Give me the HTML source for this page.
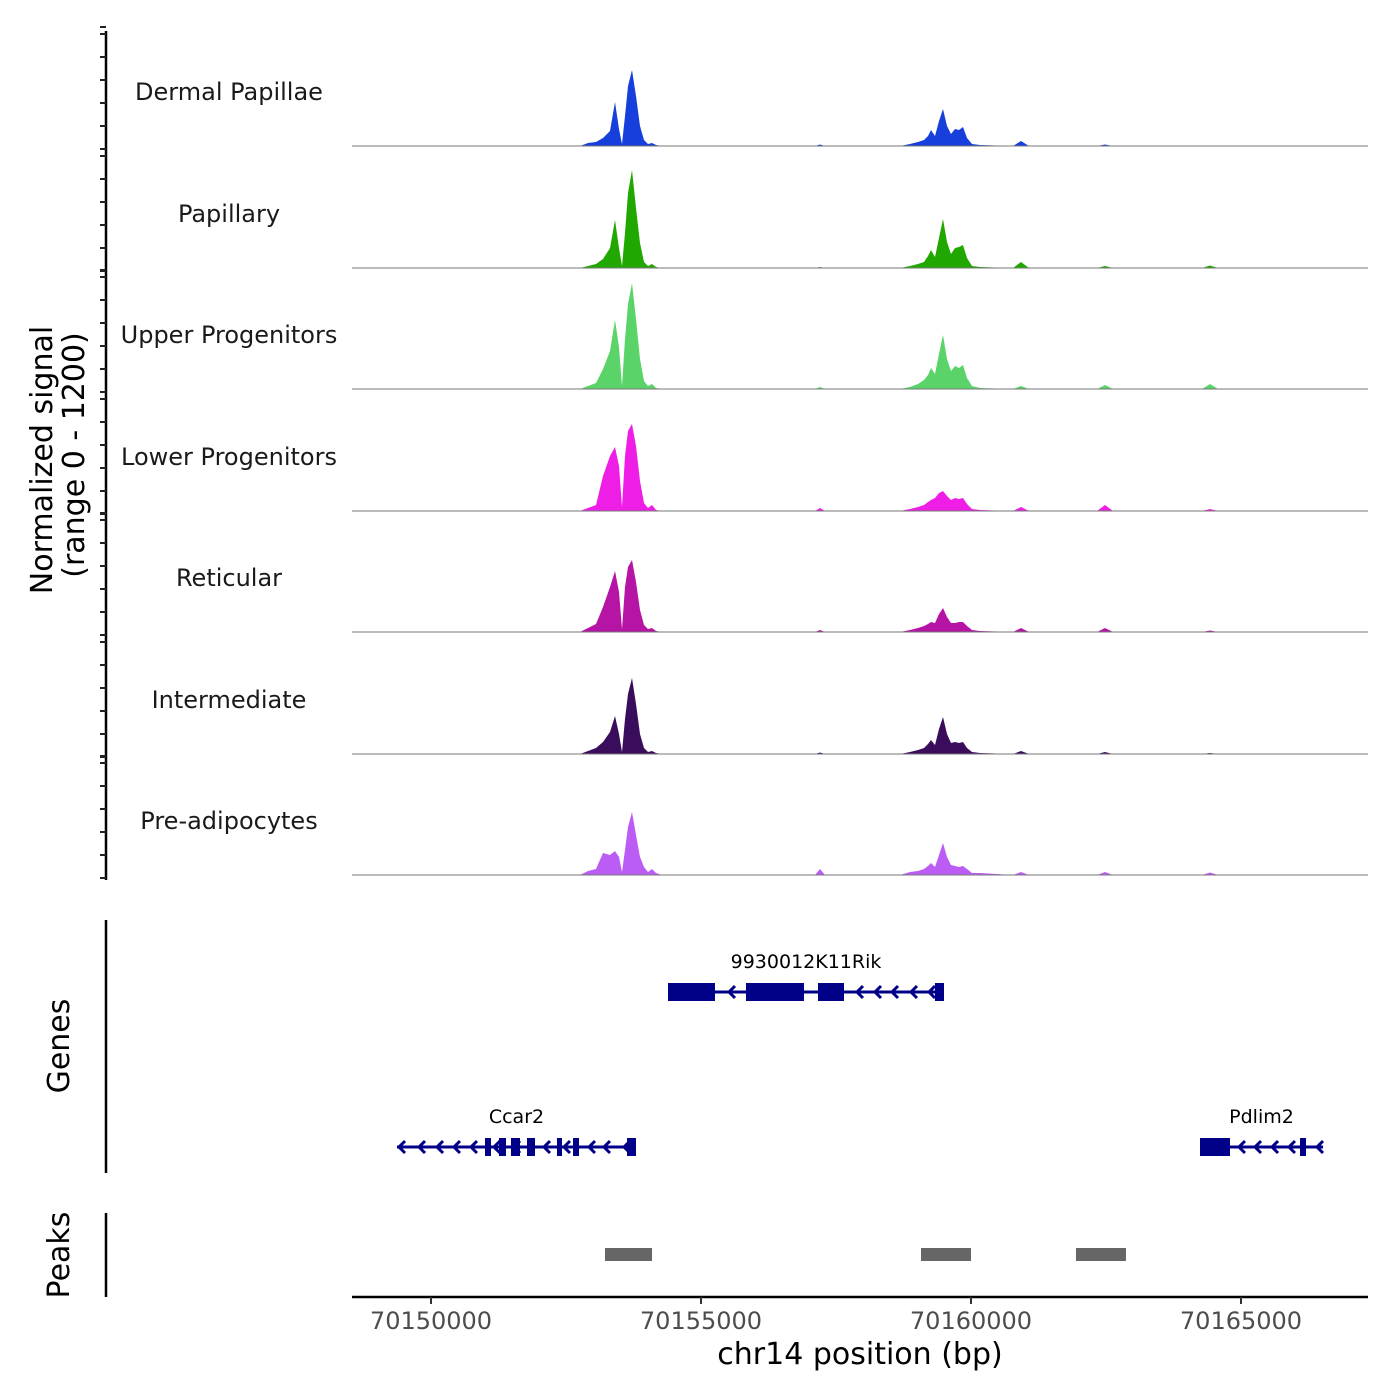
<!DOCTYPE html>
<html><head><meta charset="utf-8"><style>
html,body{margin:0;padding:0;background:#fff}
svg{display:block;font-family:"DejaVu Sans","Liberation Sans",sans-serif}
</style></head><body>
<svg id="chart" width="1400" height="1400" viewBox="0 0 1400 1400">
<g id="tracks"></g>
<g id="yaxis"></g>
<text transform="translate(52,460) rotate(-90)" text-anchor="middle" font-size="30" fill="#000">Normalized signal</text>
<text transform="translate(84,455) rotate(-90)" text-anchor="middle" font-size="30" fill="#000">(range 0 - 1200)</text>
<line x1="106" y1="920" x2="106" y2="1173" stroke="#000" stroke-width="2.5"/>
<text transform="translate(69,1046) rotate(-90)" text-anchor="middle" font-size="30">Genes</text>
<g id="genes"></g>
<line x1="106" y1="1213" x2="106" y2="1297" stroke="#000" stroke-width="2.5"/>
<text transform="translate(69,1255) rotate(-90)" text-anchor="middle" font-size="30">Peaks</text>
<g id="peaks"></g>
<g id="xaxis"></g>
<text x="860" y="1364" text-anchor="middle" font-size="30">chr14 position (bp)</text>
</svg>
<script>
const positions = [70148537,70152759,70152907,70153056,70153185,70153315,70153407,70153481,70153537,70153593,70153648,70153722,70153796,70153870,70153944,70154019,70154093,70154167,70154278,70157111,70157204,70157296,70158685,70158870,70159019,70159130,70159204,70159259,70159333,70159407,70159481,70159556,70159630,70159704,70159778,70159852,70159926,70160019,70160167,70160778,70160926,70161074,70162333,70162481,70162630,70164278,70164426,70164574,70167352];
const trackNames = ["Dermal Papillae","Papillary","Upper Progenitors","Lower Progenitors","Reticular","Intermediate","Pre-adipocytes"];
const trackColors = ["#173fdb","#20a800","#5ad468","#ee1ee6","#b514a5","#3a0c5c","#bb5cf4"];
const dermalValues =  [0,0,30,40,80,150,440,170,20,300,600,760,500,200,60,20,30,10,0,0,15,0,0,20,40,60,100,160,100,250,370,200,120,170,160,190,80,20,10,0,50,0,0,15,0,0,5,0,0];
const papillaryValues=[0,0,20,40,90,200,480,200,20,350,750,980,600,250,60,20,40,10,0,0,10,0,0,20,40,60,120,180,110,300,490,260,140,200,210,230,100,20,10,0,60,0,0,20,0,0,25,0,0];
const upperValues =   [0,0,30,60,200,380,690,420,30,500,850,1060,700,300,80,30,50,10,0,0,20,0,0,20,50,90,140,210,150,350,540,300,180,230,210,240,110,30,10,0,30,0,0,40,0,0,50,0,0];
const lowerValues =   [0,0,30,60,350,550,640,450,40,550,800,870,650,300,80,30,60,10,0,0,30,0,0,20,40,60,90,110,130,180,200,150,110,130,120,130,70,20,10,0,40,0,0,60,0,0,20,0,0];
const reticularValues=[0,0,40,80,250,450,610,400,30,450,650,720,500,220,70,30,40,10,0,0,20,0,0,20,40,60,80,100,90,180,240,150,90,90,100,100,60,20,10,0,40,0,0,40,0,0,15,0,0];
const intermediateValues=[0,0,30,60,120,220,380,200,20,350,600,760,500,200,60,20,30,10,0,0,15,0,0,20,40,60,100,140,90,250,370,200,110,120,110,120,60,20,10,0,30,0,0,20,0,0,10,0,0];
const preadipValues = [0,0,40,60,220,200,240,180,30,250,480,630,400,180,80,30,60,20,0,0,60,0,0,30,40,60,90,120,80,200,320,180,100,90,80,90,60,20,20,0,30,0,0,30,0,0,25,0,0];
const trackValues = [dermalValues,papillaryValues,upperValues,lowerValues,reticularValues,intermediateValues,preadipValues];
const xTicks = [70150000,70155000,70160000,70165000];
const peakStarts = [70153222,70159074,70161944];
const peakEnds =   [70154093,70160000,70162870];
const geneNames = ["9930012K11Rik","Ccar2","Pdlim2"];
const geneStarts = [70154389,70149370,70164241];
const geneEnds =   [70159500,70153796,70166519];
const geneRows = [0,1,1];
const exonStarts = [[70154389,70155833,70157167,70159333],[70151000,70151259,70151481,70151778,70152333,70152630,70153630],[70164241,70166093]];
const exonEnds =   [[70155259,70156907,70157648,70159500],[70151111,70151389,70151648,70151926,70152426,70152741,70153796],[70164796,70166204]];
const arrowPos = [[70155537,70157907,70158241,70158556,70158907,70159241],[70149426,70149796,70150130,70150444,70150759,70151185,70151556,70152111,70152481,70152944,70153222,70153593],[70164981,70165278,70165593,70165907,70166426]];

const NS="http://www.w3.org/2000/svg";
const X0=352,X1=1368,D0=70148537,D1=70167352;
const xs=v=>X0+(v-D0)/(D1-D0)*(X1-X0);
const baselines=[146,268,389,511,632,754,875];
const ys=(v,i)=>baselines[i]-v/1200*120;
function mk(tag,attrs,parent){const e=document.createElementNS(NS,tag);for(const k in attrs)e.setAttribute(k,attrs[k]);parent.appendChild(e);return e;}
const tracks=document.getElementById('tracks');
trackValues.forEach((vals,i)=>{
  let d=`M${xs(positions[0])},${baselines[i]}`;
  vals.forEach((v,j)=>{d+=` L${xs(positions[j]).toFixed(1)},${ys(v,i).toFixed(1)}`;});
  d+=` L${xs(positions[positions.length-1])},${baselines[i]} Z`;
  const p=mk('path',{d:d,fill:trackColors[i]},tracks);
  
  
  const bl=mk('line',{x1:X0,x2:X1,y1:baselines[i],y2:baselines[i],stroke:'#777','stroke-width':1},tracks);
  
  
  const t=mk('text',{x:229,y:baselines[i]-46,'text-anchor':'middle','font-size':24,fill:'#1a1a1a'},tracks);
  t.textContent=trackNames[i];
  
  
});
const ya=document.getElementById('yaxis');
mk('line',{x1:106,x2:106,y1:31,y2:880,stroke:'#000','stroke-width':2.5},ya);
baselines.forEach(b=>{
  for(let k=0;k<=5;k++){const y=b+3-k*23;if(y<31)continue;
    const t=mk('line',{x1:100,x2:106,y1:y,y2:y,stroke:'#222','stroke-width':2},ya);
    
    }
  const tt=mk('line',{x1:100,x2:106,y1:b-119,y2:b-119,stroke:'#222','stroke-width':2},ya);
  
  
});
const pk=document.getElementById('peaks');
peakStarts.forEach((s,i)=>{
  const r=mk('rect',{x:xs(s),y:1248,width:xs(peakEnds[i])-xs(s),height:13,fill:'#666'},pk);
  
  
});
const gn=document.getElementById('genes');
const rowY=[992,1147];
geneNames.forEach((g,i)=>{
  const y=rowY[geneRows[i]];const c='#000088';
  const grp=mk('g',{},gn);
  
  
  mk('line',{x1:xs(geneStarts[i]),x2:xs(geneEnds[i]),y1:y,y2:y,stroke:c,'stroke-width':3},grp);
  exonStarts[i].forEach((s,j)=>{mk('rect',{x:xs(s),y:y-9,width:xs(exonEnds[i][j])-xs(s),height:18,fill:c},grp);});
  arrowPos[i].forEach(a=>{const x=xs(a);mk('path',{d:`M${x+5},${y-6} L${x-1},${y} L${x+5},${y+6}`,fill:'none',stroke:c,'stroke-width':3},grp);});
  const t=mk('text',{x:(xs(geneStarts[i])+xs(geneEnds[i]))/2,y:y-24,'text-anchor':'middle','font-size':19},grp);
  t.textContent=g;
});
const xa=document.getElementById('xaxis');
mk('line',{x1:X0,x2:X1,y1:1297,y2:1297,stroke:'#000','stroke-width':2.5},xa);
xTicks.forEach(v=>{
  const x=xs(v);
  const l=mk('line',{x1:x,x2:x,y1:1297,y2:1304,stroke:'#333','stroke-width':2},xa);
  
  
  const t=mk('text',{x:x,y:1329,'text-anchor':'middle','font-size':24,fill:'#4d4d4d'},xa);
  t.textContent=v;
  
  
});
</script>
</body></html>
